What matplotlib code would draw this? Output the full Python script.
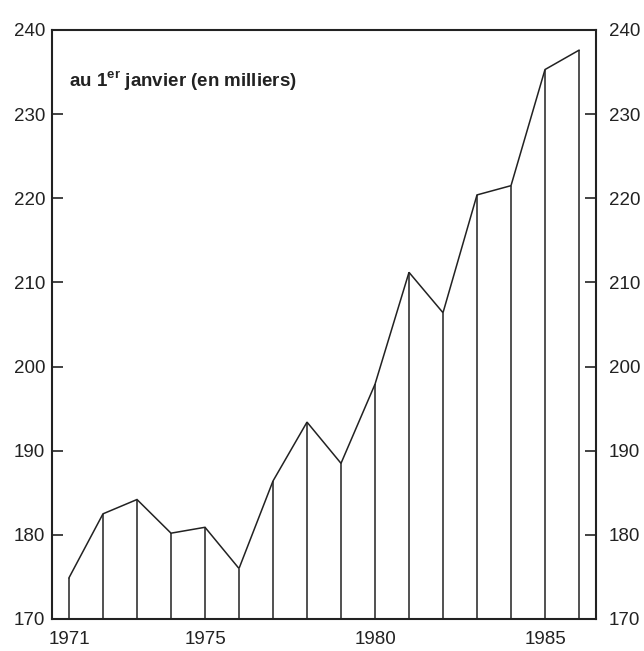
import matplotlib
matplotlib.use("Agg")
import matplotlib.pyplot as plt
import matplotlib.transforms as mtransforms

years = [1971, 1972, 1973, 1974, 1975, 1976, 1977, 1978, 1979, 1980,
         1981, 1982, 1983, 1984, 1985, 1986]
values = [174.9, 182.5, 184.2, 180.2, 180.9, 176.0, 186.4, 193.4, 188.5, 197.9,
          211.2, 206.4, 220.4, 221.5, 235.3, 237.6]
yticks = [170, 180, 190, 200, 210, 220, 230, 240]
xticks = [1971, 1975, 1980, 1985]
note = r"au 1$^{\mathbf{er}}$ janvier (en milliers)"

plt.rcParams['font.family'] = ['Liberation Sans', 'DejaVu Sans']
plt.rcParams['mathtext.fontset'] = 'custom'
plt.rcParams['mathtext.rm'] = 'Liberation Sans'
plt.rcParams['mathtext.bf'] = 'Liberation Sans:bold'

col = '#222222'
fig = plt.figure(figsize=(6.44, 6.51), dpi=100)
ax = fig.add_axes([52/644, 32/651, 544/644, 589/651])

ax.plot(years, values, color=col, lw=1.1, solid_joinstyle='miter')
ax.vlines(years, 170, values, color=col, lw=1.1)

ax.set_xlim(1970.5, 1986.5)
ax.set_ylim(170, 240)
ax.set_yticks(yticks)
ax.set_xticks(xticks)
ax.set_xticklabels([str(x) for x in xticks])

for s in ax.spines.values():
    s.set_linewidth(1.5)
    s.set_color(col)

ax.tick_params(axis='y', direction='in', length=8, width=1.2, color=col,
               labelsize=13.5, pad=5, labelcolor='#222222',
               left=True, right=True, labelleft=True, labelright=True)
ax.tick_params(axis='x', length=0, labelsize=13.5, pad=9, labelcolor='#222222')

offset = mtransforms.ScaledTranslation(4/72, 0, fig.dpi_scale_trans)
for t in ax.yaxis.get_major_ticks():
    t.label2.set_transform(t.label2.get_transform() + offset)

ax.text(1971.0, 233.9, note, fontsize=13.5, fontweight='bold', color='#222222',
        ha='left', va='center')

fig.savefig('out.png', dpi=100)
